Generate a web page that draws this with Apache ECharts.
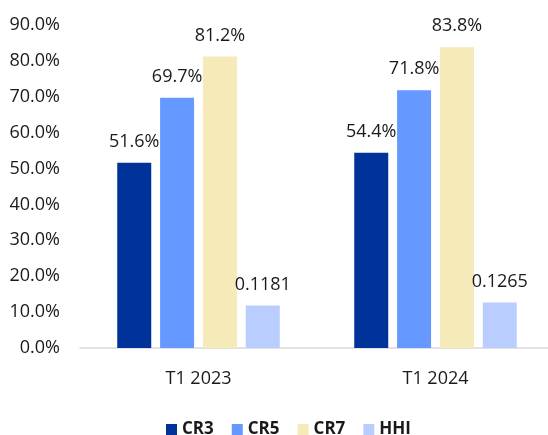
<!DOCTYPE html>
<html>
<head>
<meta charset="utf-8">
<script src="https://cdn.jsdelivr.net/npm/echarts@6/dist/echarts.min.js"></script>
<style>
  html, body { margin: 0; padding: 0; background: #fff; overflow: hidden; }
  #chart { width: 554px; height: 435px; }
</style>
</head>
<body>
<div id="chart"></div>
<script>
// 数据
const categories = ['T1 2023', 'T1 2024'];
const cr3 = [51.6, 54.4];
const cr5 = [69.7, 71.8];
const cr7 = [81.2, 83.8];
const hhi = [0.1181, 0.1265]; // 指数值，按百分比刻度绘制

const font = 'Open Sans';
const textColor = '#1a1a1a';

const pctLabel = {
  show: true,
  position: 'top',
  distance: 12,
  fontFamily: font,
  fontSize: 18,
  color: textColor,
  formatter: (p) => p.value.toFixed(1) + '%'
};

// 图表比窗口略宽，右侧超出部分被裁掉
const chart = echarts.init(document.getElementById('chart'));
chart.setOption({
  animation: false,
  grid: { left: 80, right: 0, top: 25, bottom: 87 },
  legend: {
    left: 161,
    top: 416,
    itemWidth: 11,
    itemHeight: 11,
    itemGap: 18,
    icon: 'rect',
    textStyle: { fontFamily: font, fontSize: 17, fontWeight: 'bold', color: textColor },
    data: ['CR3', 'CR5', 'CR7', 'HHI']
  },
  xAxis: {
    type: 'category',
    data: categories,
    axisLine: { lineStyle: { color: '#d9d9d9', width: 1.5 } },
    axisTick: { show: false },
    axisLabel: { margin: 22, fontFamily: font, fontSize: 18, color: textColor }
  },
  yAxis: {
    type: 'value',
    min: 0,
    max: 90,
    interval: 10,
    splitLine: { show: false },
    axisLine: { show: false },
    axisTick: { show: false },
    axisLabel: {
      margin: 20,
      fontFamily: font,
      fontSize: 18,
      color: textColor,
      formatter: (v) => v.toFixed(1) + '%'
    }
  },
  series: [
    { name: 'CR3', type: 'bar', barWidth: 34, barGap: '26%', data: cr3,
      itemStyle: { color: '#003399' }, label: pctLabel },
    { name: 'CR5', type: 'bar', barWidth: 34, data: cr5,
      itemStyle: { color: '#6699ff' }, label: pctLabel },
    { name: 'CR7', type: 'bar', barWidth: 34, data: cr7,
      itemStyle: { color: '#f6eab8' }, label: pctLabel },
    { name: 'HHI', type: 'bar', barWidth: 34, data: hhi.map((v) => v * 100),
      itemStyle: { color: '#b9cdfe' },
      label: Object.assign({}, pctLabel, {
        formatter: (p) => hhi[p.dataIndex].toFixed(4)
      }) }
  ]
});
</script>
</body>
</html>
